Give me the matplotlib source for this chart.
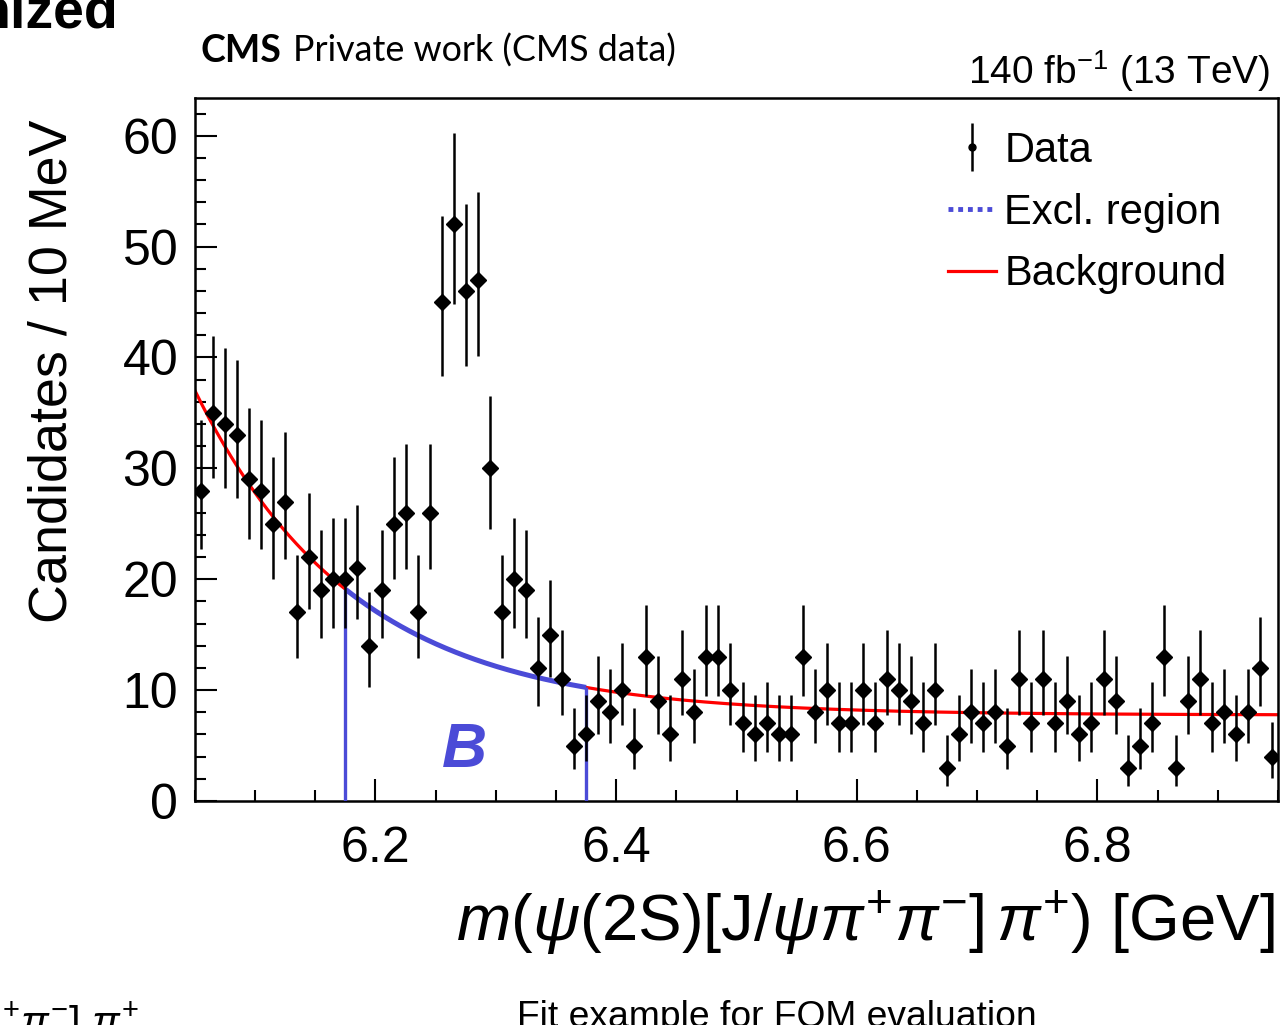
import numpy as np
import matplotlib
matplotlib.use("Agg")
import matplotlib.pyplot as plt
from matplotlib.lines import Line2D
from matplotlib.ticker import MultipleLocator

# ---------------- data ----------------
x_min, x_max, bin_width = 6.05, 6.95, 0.01
counts = [28, 35, 34, 33, 29, 28, 25, 27, 17, 22,
          19, 20, 20, 21, 14, 19, 25, 26, 17, 26,
          45, 52, 46, 47, 30, 17, 20, 19, 12, 15,
          11, 5, 6, 9, 8, 10, 5, 13, 9, 6,
          11, 8, 13, 13, 10, 7, 6, 7, 6, 6,
          13, 8, 10, 7, 7, 10, 7, 11, 10, 9,
          7, 10, 3, 6, 8, 7, 8, 5, 11, 7,
          11, 7, 9, 6, 7, 11, 9, 3, 5, 7,
          13, 3, 9, 11, 7, 8, 6, 8, 12, 4]
# background fit: const + amp * exp(-(m - x_min) / slope)
bkg_const, bkg_amp, bkg_slope = 7.75, 29.25, 0.132
excl_lo, excl_hi = 6.175, 6.375
x_ticks = [6.2, 6.4, 6.6, 6.8]
y_ticks = [0, 10, 20, 30, 40, 50, 60]

# ---------------- style ----------------
plt.rcParams['font.family'] = ['Liberation Sans', 'DejaVu Sans']
plt.rcParams['mathtext.fontset'] = 'custom'
plt.rcParams['mathtext.rm'] = 'Liberation Sans'
plt.rcParams['mathtext.it'] = 'Liberation Sans:italic'
plt.rcParams['mathtext.bf'] = 'Liberation Sans:bold'

BLUE = '#4b4bd7'
RED = '#ff0000'

W, H = 1282, 1025
fig = plt.figure(figsize=(W / 100, H / 100), dpi=100)
ax = fig.add_axes([195 / W, 1 - 801 / H, 1083 / W, 703 / H])

counts_a = np.array(counts, dtype=float)
centers = x_min + bin_width * (np.arange(len(counts)) + 0.5)

# Poisson (Garwood) 68% interval, Wilson-Hilferty approximation
n = counts_a
lo_bound = n * (1 - 1 / (9 * n) - 1 / (3 * np.sqrt(n))) ** 3
hi_bound = (n + 1) * (1 - 1 / (9 * (n + 1)) + 1 / (3 * np.sqrt(n + 1))) ** 3
err_lo = n - lo_bound
err_hi = hi_bound - n


def bkg(m):
    return bkg_const + bkg_amp * np.exp(-(m - x_min) / bkg_slope)


xs = np.linspace(x_min, x_max, 600)
ax.plot(xs, bkg(xs), color=RED, lw=2.3, zorder=2)

xe = np.linspace(excl_lo, excl_hi, 200)
ax.plot(xe, bkg(xe), color=BLUE, lw=3.6, zorder=3, solid_capstyle='butt')
ax.vlines([excl_lo, excl_hi], 0, [bkg(excl_lo), bkg(excl_hi)], color=BLUE, lw=2.4, zorder=3)

ax.errorbar(centers, counts_a, yerr=[err_lo, err_hi], fmt='none', ecolor='black',
            elinewidth=1.8, capsize=0, zorder=4)
ax.plot(centers, counts_a, ls='none', marker='D', ms=8, color='black', zorder=5)

ax.text(6.274, 3.06, 'B', color=BLUE, fontsize=45, fontweight='bold', fontstyle='italic',
        ha='center', va='baseline', zorder=6)

ax.set_xlim(x_min, x_max)
ax.set_ylim(0, 63.4)
ax.set_xticks(x_ticks)
ax.set_yticks(y_ticks)
ax.set_xticklabels([f'{v:.1f}' for v in x_ticks])
ax.set_yticklabels([str(v) for v in y_ticks])
ax.xaxis.set_minor_locator(MultipleLocator(0.05))
ax.yaxis.set_minor_locator(MultipleLocator(2))
ax.tick_params(axis='both', which='both', direction='in', top=False, right=False,
               width=1.5, labelsize=36)
ax.tick_params(axis='both', which='major', length=16)
ax.tick_params(axis='both', which='minor', length=8)
ax.tick_params(axis='x', which='major', pad=18)
ax.tick_params(axis='y', which='major', pad=12)
for s in ax.spines.values():
    s.set_linewidth(1.8)

ax.set_ylabel('Candidates / 10 MeV', fontsize=38.8, ha='right')
ax.yaxis.set_label_coords(-0.1085, 1 - 22 / 703)

fig.text(1275 / W, 1 - 942 / H,
         r'$m(\psi(\mathrm{2S})[\mathrm{J}/\psi\pi^{+}\pi^{-}]\,\pi^{+})$ [GeV]',
         fontsize=47, ha='right', va='baseline')

# legend
h_data = (Line2D([], [], ls='none', marker='|', ms=34, mew=1.8, color='black'),
          Line2D([], [], ls='none', marker='o', ms=5, color='black'))
h_excl = Line2D([], [], color=BLUE, lw=3.5, ls=(0, (1, 1)))
h_bkg = Line2D([], [], color=RED, lw=2.3)
ax.legend([h_data, h_excl, h_bkg], ['Data', 'Excl. region', 'Background'],
          loc='upper left', bbox_to_anchor=((948 - 195) / 1083, (801 - 131) / 703),
          frameon=False, fontsize=30, handlelength=1.15, handletextpad=0.2,
          labelspacing=0.52, borderpad=0, borderaxespad=0)

# header texts
fig.text(200 / W, 1 - 62 / H, 'CMS', fontsize=27, fontweight='bold',
         family=['Lato', 'DejaVu Sans'], ha='left', va='baseline')
fig.text(293 / W, 1 - 62 / H, 'Private work (CMS data)', fontsize=25.8,
         family=['Lato', 'DejaVu Sans'], ha='left', va='baseline')
fig.text(1270 / W, 1 - 84 / H, r'140 fb$^{-1}$ (13 TeV)', fontsize=28,
         ha='right', va='baseline')

# slide fragments
fig.text(118 / W, 1 - 28 / H, 'nized', fontsize=40, fontweight='bold',
         family=['Liberation Sans Narrow', 'Liberation Sans'], ha='right', va='baseline')
fig.text(517 / W, 1 - 1027 / H, 'Fit example for FOM evaluation', fontsize=26.8,
         ha='left', va='baseline')
fig.text(2 / W, 1 - 1036 / H, r'$^{+}\pi^{-}]\ \pi^{+}$', fontsize=30,
         ha='left', va='baseline')

fig.savefig('out.png', dpi=100)
